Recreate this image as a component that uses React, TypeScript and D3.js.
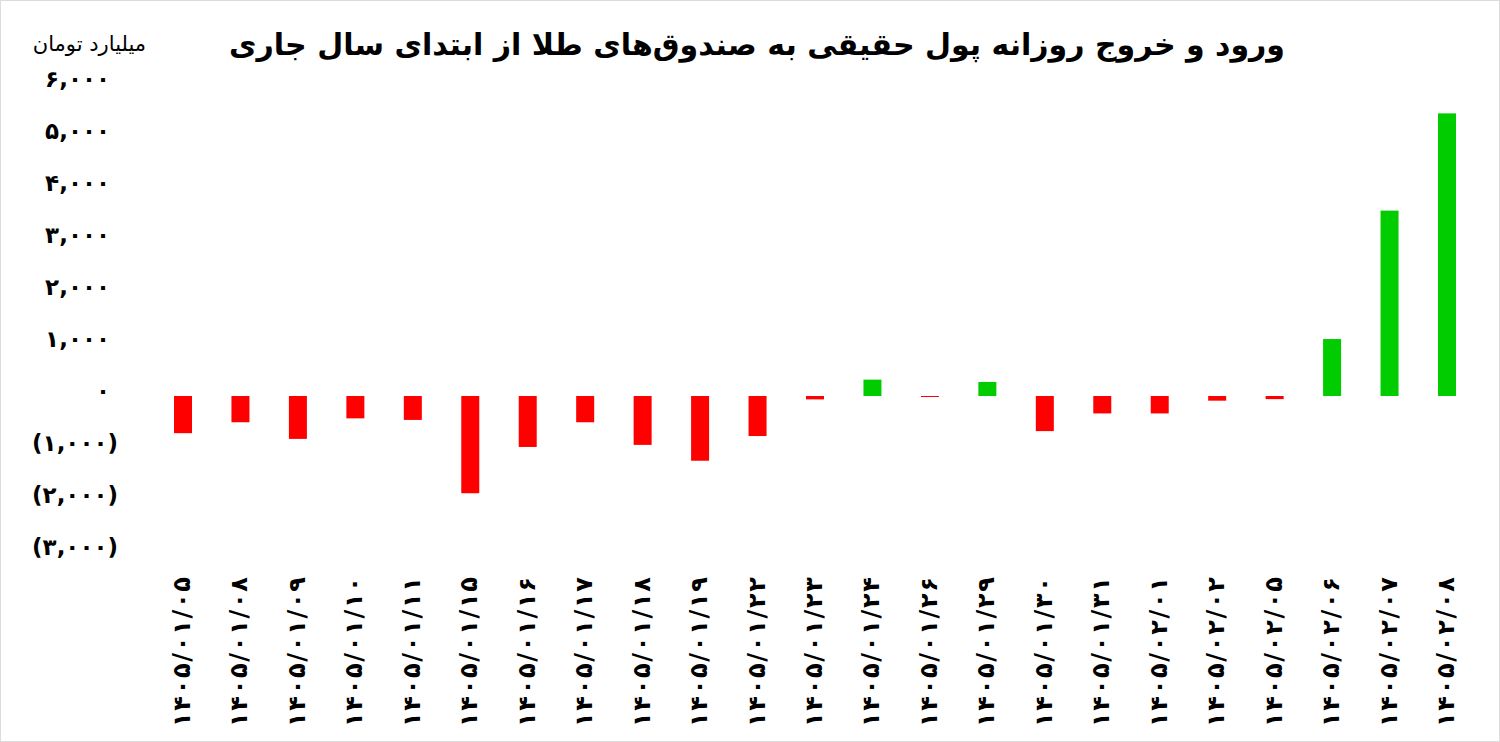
import React from "react";
import * as d3 from "d3";

const dates = [
  "۱۴۰۵/۰۱/۰۵", "۱۴۰۵/۰۱/۰۸", "۱۴۰۵/۰۱/۰۹", "۱۴۰۵/۰۱/۱۰", "۱۴۰۵/۰۱/۱۱", "۱۴۰۵/۰۱/۱۵",
  "۱۴۰۵/۰۱/۱۶", "۱۴۰۵/۰۱/۱۷", "۱۴۰۵/۰۱/۱۸", "۱۴۰۵/۰۱/۱۹", "۱۴۰۵/۰۱/۲۲", "۱۴۰۵/۰۱/۲۳",
  "۱۴۰۵/۰۱/۲۴", "۱۴۰۵/۰۱/۲۶", "۱۴۰۵/۰۱/۲۹", "۱۴۰۵/۰۱/۳۰", "۱۴۰۵/۰۱/۳۱", "۱۴۰۵/۰۲/۰۱",
  "۱۴۰۵/۰۲/۰۲", "۱۴۰۵/۰۲/۰۵", "۱۴۰۵/۰۲/۰۶", "۱۴۰۵/۰۲/۰۷", "۱۴۰۵/۰۲/۰۸",
];
const values = [
  -715, -505, -825, -430, -460, -1870, -980, -505, -940, -1245, -770, -65,
  315, -15, 270, -675, -335, -335, -90, -60, 1095, 3565, 5435,
];
const yTicks = [6000, 5000, 4000, 3000, 2000, 1000, 0, -1000, -2000, -3000];
const title = "ورود و خروج روزانه پول حقیقی به صندوق‌های طلا از ابتدای سال جاری";
const unitLabel = "میلیارد تومان";

const W = 1500;
const H = 742;
const FONT = "'DejaVu Sans', 'Noto Sans', sans-serif";

const toFa = (s: string) => s.replace(/[0-9]/g, (d) => "۰۱۲۳۴۵۶۷۸۹"[+d]);
const fmt = (v: number) => {
  const s = toFa(d3.format(",")(Math.abs(v)));
  return v < 0 ? `(${s})` : s;
};

export default function App() {
  const x = d3.scalePoint<string>().domain(dates).range([183, 1447]).padding(0);
  const y = d3.scaleLinear().domain([-3000, 6000]).range([552, 84]);
  const bw = 18;

  return (
    <svg
      width={W}
      height={H}
      style={{ position: "absolute", left: 0, top: 0, background: "#fff" }}
      fontFamily={FONT}
    >
      <rect x={0.5} y={0.5} width={W - 1} height={H - 1} fill="#fff" stroke="#dcdcdc" />
      <text
        x={1285}
        y={46}
        textAnchor="end"
        dominantBaseline="middle"
        fontSize={30}
        fontWeight="bold"
        fill="#000"
      >
        {title}
      </text>
      <text
        x={146}
        y={45}
        textAnchor="end"
        dominantBaseline="middle"
        fontSize={21}
        fill="#000"
      >
        {unitLabel}
      </text>
      {yTicks.map((t) => (
        <text
          key={t}
          x={t < 0 ? 118 : 110}
          y={y(t) - 4}
          textAnchor="end"
          dominantBaseline="middle"
          fontSize={23}
          fontWeight="bold"
          fill="#000"
        >
          {fmt(t)}
        </text>
      ))}
      {dates.map((d, i) => {
        const v = values[i];
        const y0 = y(0);
        const y1 = y(v);
        return (
          <rect
            key={d}
            x={(x(d) as number) - bw / 2}
            y={Math.min(y0, y1)}
            width={bw}
            height={Math.max(1, Math.abs(y1 - y0))}
            fill={v >= 0 ? "#00CC00" : "#FF0000"}
          />
        );
      })}
      {dates.map((d) => (
        <text
          key={"l" + d}
          transform={`translate(${x(d) as number},${727}) rotate(-90)`}
          textAnchor="start"
          dominantBaseline="middle"
          fontSize={24}
          fontWeight="bold"
          textLength={150}
          lengthAdjust="spacing"
          fill="#000"
        >
          {d}
        </text>
      ))}
    </svg>
  );
}
